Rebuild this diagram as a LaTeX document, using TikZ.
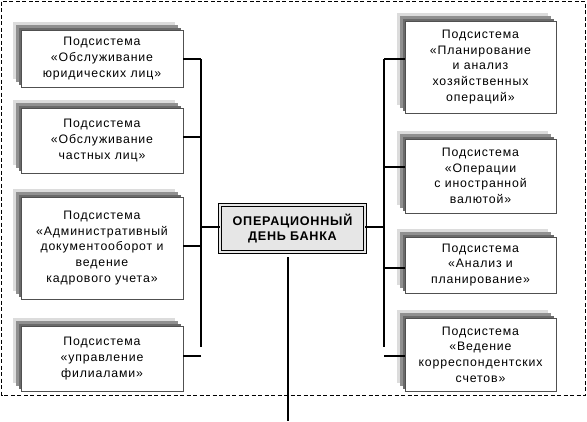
\documentclass[tikz,border=0pt]{standalone}
\usepackage{fontspec}
\setmainfont{Liberation Sans}
\usepackage{xcolor}
\usepackage{tikz}
\usetikzlibrary{shadows}
\definecolor{edge}{HTML}{505050}
\definecolor{shlight}{HTML}{DCDCDC}
\definecolor{shdark}{HTML}{909090}
\definecolor{shdeep}{HTML}{6A6A6A}
\definecolor{core}{HTML}{E6E6E6}
\tikzset{
  sub/.style={draw=edge, line width=0.9pt, fill=white, align=center, inner sep=0pt,
    font=\fontsize{12.3}{15.6}\selectfont\addfontfeatures{LetterSpace=7},
    general shadow={fill=shlight, shadow xshift=-8.5pt, shadow yshift=8.5pt},
    general shadow={fill=shdark, shadow xshift=-5pt, shadow yshift=5pt},
    general shadow={fill=shdeep, shadow xshift=-2.5pt, shadow yshift=2.5pt}},
  hub/.style={draw=black, double=core, double distance=1.6pt, line width=0.8pt, fill=core,
    align=center, inner sep=0pt, minimum width=145pt, minimum height=47pt,
    font=\fontsize{12.6}{15.5}\selectfont\bfseries\addfontfeatures{LetterSpace=6}},
  link/.style={draw=black, line width=1.6pt},
  frame/.style={draw=black, dashed, dash pattern=on 4pt off 2.5pt, line width=0.8pt},
}

\begin{document}
\begin{tikzpicture}[x=1pt, y=-1pt]
\useasboundingbox (0,0) rectangle (587,421);
\draw[frame] (1.5,1.5) rectangle (585.5,395);
% left column
\node[sub, minimum width=162pt, minimum height=57pt] (jur) at (102,58.5)
  {Подсистема\\«Обслуживание\\юридических лиц»};
\node[sub, minimum width=162pt, minimum height=65pt] (priv) at (102,140.5)
  {Подсистема\\«Обслуживание\\частных лиц»};
\node[sub, minimum width=162pt, minimum height=102pt] (admin) at (102,248)
  {Подсистема\\«Административный\\документооборот и\\ведение\\кадрового учета»};
\node[sub, minimum width=162pt, minimum height=65pt] (fil) at (102,358.5)
  {Подсистема\\«управление\\филиалами»};
% right column
\node[sub, minimum width=151pt, minimum height=92pt] (plan) at (480.5,67)
  {Подсистема\\«Планирование\\и анализ\\хозяйственных\\операций»};
\node[sub, minimum width=151pt, minimum height=74pt] (val) at (480.5,176)
  {Подсистема\\«Операции\\с иностранной\\валютой»};
\node[sub, minimum width=151pt, minimum height=56pt] (anal) at (480.5,265)
  {Подсистема\\«Анализ и\\планирование»};
\node[sub, minimum width=151pt, minimum height=73pt] (korr) at (480.5,354.5)
  {Подсистема\\«Ведение\\корреспондентских\\счетов»};
% centre
\node[hub] (day) at (292.5,228.5) {ОПЕРАЦИОННЫЙ\\ДЕНЬ БАНКА};
% bus points
\coordinate (ltop) at (201,59);
\coordinate (lend) at (201,347);
\coordinate (rtop) at (384,59);
\coordinate (rend) at (384,347);
\coordinate (lmid) at (201,227);
\coordinate (rmid) at (384,227);
\coordinate (dtop) at (288,257);
\coordinate (dend) at (288,421);
\draw[link] (ltop) -- (lend);
\draw[link] (rtop) -- (rend);
\draw[link] (ltop) -- (ltop -| jur.east);
\draw[link] (201,137) -- (priv.east |- 0,137);
\draw[link] (201,246) -- (admin.east |- 0,246);
\draw[link] (201,356) -- (fil.east |- 0,356);
\draw[link] (rtop) -- (rtop -| plan.west);
\draw[link] (384,167) -- (val.west |- 0,167);
\draw[link] (384,268) -- (anal.west |- 0,268);
\draw[link] (384,356) -- (korr.west |- 0,356);
\draw[link] (lmid) -- (lmid -| day.west);
\draw[link] (rmid) -- (rmid -| day.east);
\draw[link] (dtop) -- (dend);
\end{tikzpicture}
\end{document}
